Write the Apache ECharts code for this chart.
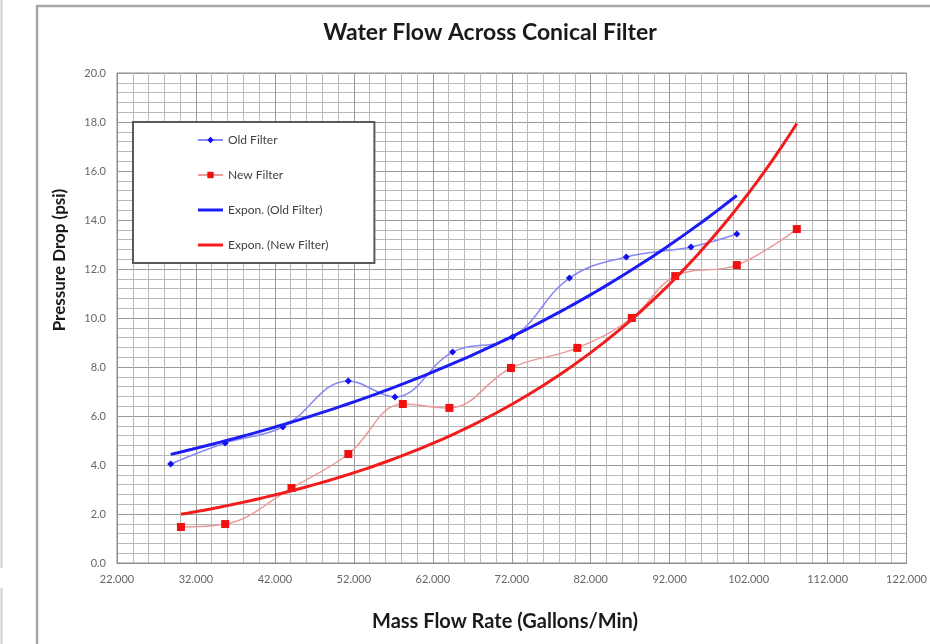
<!DOCTYPE html>
<html><head><meta charset="utf-8">
<script src="https://cdn.jsdelivr.net/npm/echarts@6/dist/echarts.min.js"></script>
<style>html,body{margin:0;padding:0;background:#fff}#c{width:930px;height:644px}</style>
</head><body><div id="c"></div>
<script>
// ---- data ----
const oldFilterX = [28.8, 35.7, 43.0, 51.3, 57.2, 64.5, 72.1, 79.3, 86.5, 94.7, 100.5];
const oldFilterY = [4.04, 4.90, 5.55, 7.43, 6.78, 8.61, 9.22, 11.63, 12.49, 12.90, 13.43];
const newFilterX = [30.1, 35.7, 44.1, 51.3, 58.2, 64.1, 71.9, 80.3, 87.2, 92.7, 100.5, 108.1];
const newFilterY = [1.47, 1.59, 3.06, 4.45, 6.49, 6.33, 7.96, 8.78, 10.0, 11.71, 12.16, 13.63];
const seriesNames = ['Old Filter', 'New Filter', 'Expon. (Old Filter)', 'Expon. (New Filter)'];
const xAxisRange = [22, 122, 10];
const yAxisRange = [0, 20, 2];
const titleText = 'Water Flow Across Conical Filter';
const xTitle = 'Mass Flow Rate (Gallons/Min)';
const yTitle = 'Pressure Drop (psi)';

// exponential least-squares trendline (as in a spreadsheet "Expon." trendline)
function expFit(xs, ys) {
  const n = xs.length; let sx = 0, sy = 0, sxx = 0, sxy = 0;
  for (let i = 0; i < n; i++) { const l = Math.log(ys[i]); sx += xs[i]; sy += l; sxx += xs[i] * xs[i]; sxy += xs[i] * l; }
  const b = (n * sxy - sx * sy) / (n * sxx - sx * sx);
  const a = Math.exp((sy - b * sx) / n);
  return { a, b };
}
function trend(xs, ys) {
  const f = expFit(xs, ys);
  const x0 = Math.min(...xs), x1 = Math.max(...xs);
  const pts = [];
  for (let k = 0; k <= 80; k++) { const x = x0 + (x1 - x0) * k / 80; pts.push([x, f.a * Math.exp(f.b * x)]); }
  return pts;
}
const zip = (xs, ys) => xs.map((x, i) => [x, ys[i]]);

const chart = echarts.init(document.getElementById('c'), null, { renderer: 'canvas' });
const F = 'Lato, "Liberation Sans", sans-serif';
const lineIcon = 'path://M0,0H25V3H0Z';
chart.setOption({
  animation: false,
  backgroundColor: '#fff',
  graphic: [
    { type: 'rect', shape: { x: 37, y: 6, width: 920, height: 660 }, style: { fill: 'none', stroke: '#a6a6a6', lineWidth: 2.5 }, z: -10 },
    { type: 'line', shape: { x1: 1.5, y1: 0, x2: 1.5, y2: 568 }, style: { stroke: '#cfcfcf', lineWidth: 2 } },
    { type: 'line', shape: { x1: 1.5, y1: 588, x2: 1.5, y2: 644 }, style: { stroke: '#cfcfcf', lineWidth: 2 } },
    { type: 'text', x: 490, y: 33, style: { text: titleText, font: 'bold 23px ' + F, fill: '#1a1a1a', align: 'center', verticalAlign: 'middle' } },
    { type: 'text', x: 505, y: 622, style: { text: xTitle, font: 'bold 20px ' + F, fill: '#1a1a1a', align: 'center', verticalAlign: 'middle' } },
    { type: 'text', x: 60, y: 260, rotation: Math.PI / 2, style: { text: yTitle, font: 'bold 17px ' + F, fill: '#1a1a1a', align: 'center', verticalAlign: 'middle' } }
  ],
  grid: { left: 117, top: 73, right: 22, bottom: 81, show: true, borderColor: '#8c8c8c', borderWidth: 1 },
  legend: {
    data: [
      { name: seriesNames[0] }, { name: seriesNames[1] },
      { name: seriesNames[2], icon: lineIcon }, { name: seriesNames[3], icon: lineIcon }
    ],
    orient: 'vertical', left: 133, top: 122,
    itemWidth: 25, itemHeight: 8, itemGap: 23,
    padding: [12, 46, 12, 64],
    backgroundColor: '#fff', borderColor: '#5a5a5a', borderWidth: 2,
    textStyle: { fontSize: 12, lineHeight: 12, color: '#404040', fontFamily: F }
  },
  xAxis: {
    type: 'value', min: xAxisRange[0], max: xAxisRange[1], interval: xAxisRange[2],
    axisLine: { show: true, lineStyle: { color: '#8c8c8c' } },
    axisTick: { show: false },
    axisLabel: { formatter: v => v.toFixed(3), fontSize: 11, color: '#666', fontFamily: F, margin: 11 },
    splitLine: { show: true, lineStyle: { color: '#9a9a9a', width: 1 } },
    minorTick: { show: false, splitNumber: 5 },
    minorSplitLine: { show: true, lineStyle: { color: '#b8b8b8', width: 1 } }
  },
  yAxis: {
    type: 'value', min: yAxisRange[0], max: yAxisRange[1], interval: yAxisRange[2],
    axisLine: { show: true, lineStyle: { color: '#8c8c8c' } },
    axisTick: { show: false },
    axisLabel: { formatter: v => v.toFixed(1), fontSize: 11, color: '#666', fontFamily: F, margin: 11 },
    splitLine: { show: true, lineStyle: { color: '#9a9a9a', width: 1 } },
    minorTick: { show: false, splitNumber: 5 },
    minorSplitLine: { show: true, lineStyle: { color: '#b8b8b8', width: 1 } }
  },
  series: [
    { name: seriesNames[0], type: 'line', data: zip(oldFilterX, oldFilterY), smooth: 0.4,
      symbol: 'diamond', symbolSize: 7, itemStyle: { color: '#1010f0' },
      lineStyle: { color: '#8888f4', width: 1.5 }, z: 3 },
    { name: seriesNames[1], type: 'line', data: zip(newFilterX, newFilterY), smooth: 0.4,
      symbol: 'rect', symbolSize: 8, itemStyle: { color: '#f01010' },
      lineStyle: { color: '#eb9a9a', width: 1.5 }, z: 3 },
    { name: seriesNames[2], type: 'line', data: trend(oldFilterX, oldFilterY), symbol: 'none',
      itemStyle: { color: '#1c1cf5' }, lineStyle: { color: '#1c1cf5', width: 3 }, z: 4 },
    { name: seriesNames[3], type: 'line', data: trend(newFilterX, newFilterY), symbol: 'none',
      itemStyle: { color: '#f21c1c' }, lineStyle: { color: '#f21c1c', width: 3 }, z: 4 }
  ]
});
</script></body></html>
